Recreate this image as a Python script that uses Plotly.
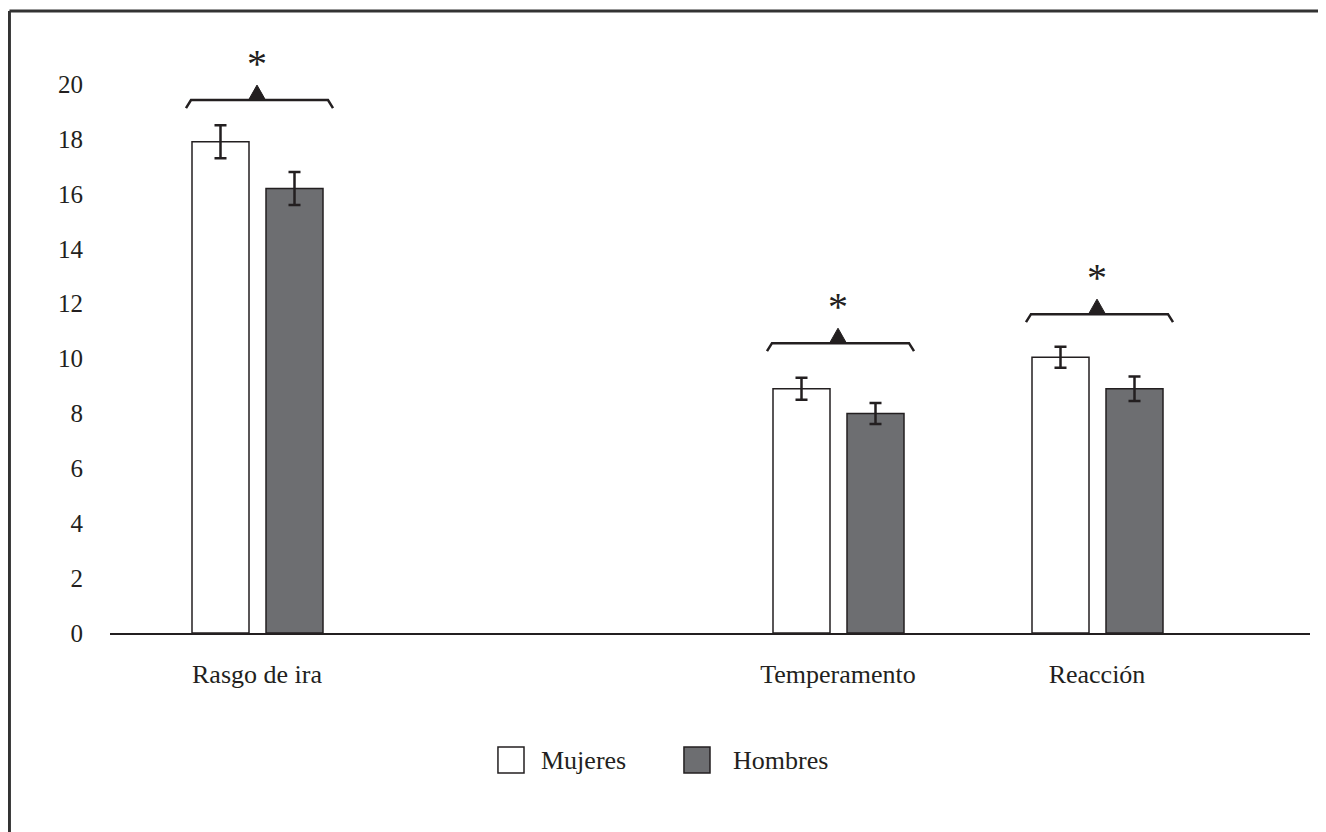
import plotly.graph_objects as go

# ---- data ----
categories = ["Rasgo de ira", "Temperamento", "Reacción"]
series_names = ["Mujeres", "Hombres"]
mujeres = [17.9, 8.9, 10.05]
mujeres_err = [0.6, 0.4, 0.38]
hombres = [16.2, 8.0, 8.9]
hombres_err = [0.6, 0.38, 0.45]
bracket_levels = [19.42, 10.56, 11.62]
y_ticks = [0, 2, 4, 6, 8, 10, 12, 14, 16, 18, 20]

# ---- layout helpers (positions of category groups on a numeric axis) ----
cat_pos = [147, 728, 987]
INK = "#231f20"
GRAY = "#6d6e71"
FONT = "Liberation Serif"

fig = go.Figure()
fig.add_trace(go.Bar(
    x=cat_pos, y=mujeres, name=series_names[0], width=57, offset=-65,
    marker=dict(color="white", line=dict(color=INK, width=1.5)),
    error_y=dict(type="data", array=mujeres_err, color=INK, thickness=2.5, width=6),
    showlegend=False,
))
fig.add_trace(go.Bar(
    x=cat_pos, y=hombres, name=series_names[1], width=57, offset=9,
    marker=dict(color=GRAY, line=dict(color=INK, width=1.5)),
    error_y=dict(type="data", array=hombres_err, color=INK, thickness=2.5, width=6),
    showlegend=False,
))

shapes = []
annotations = []
for cx, lvl in zip(cat_pos, bracket_levels):
    # bracket
    shapes.append(dict(type="path", xref="x", yref="y", xsizemode="pixel", ysizemode="pixel",
                       xanchor=cx, yanchor=lvl,
                       path="M-71,-8 L-66,0 L71,0 L76,-8",
                       line=dict(color=INK, width=2.5)))
    # triangle
    shapes.append(dict(type="path", xref="x", yref="y", xsizemode="pixel", ysizemode="pixel",
                       xanchor=cx, yanchor=lvl,
                       path="M-8.5,0 L0,15 L8.5,0 Z",
                       fillcolor=INK, line=dict(color=INK, width=1)))
    annotations.append(dict(x=cx, y=lvl, xref="x", yref="y", text="*", showarrow=False,
                            yshift=37, font=dict(family=FONT, size=40, color=INK)))

# outer frame (top and left edges)
shapes.append(dict(type="line", xref="paper", yref="paper", x0=-0.0838, x1=1.02, y0=1.0542, y1=1.0542,
                   line=dict(color="#333333", width=3)))
shapes.append(dict(type="line", xref="paper", yref="paper", x0=-0.0838, x1=-0.0838, y0=1.0542, y1=-0.4,
                   line=dict(color="#333333", width=3)))

# manual legend with large swatches
legend_items = [(series_names[0], "white", 0.3233, 0.3575), (series_names[1], GRAY, 0.4783, 0.5175)]
for name, col, bx, tx in legend_items:
    shapes.append(dict(type="rect", xref="paper", yref="paper", x0=bx, x1=bx + 0.0217,
                       y0=-0.2373, y1=-0.1932, fillcolor=col, line=dict(color=INK, width=1.5)))
    annotations.append(dict(x=tx, y=-0.2153, xref="paper", yref="paper", text=name, showarrow=False,
                            xanchor="left", yanchor="middle", font=dict(family=FONT, size=26, color=INK)))

fig.update_layout(
    width=1318, height=824,
    margin=dict(l=102, r=16, t=35, b=199),
    paper_bgcolor="white", plot_bgcolor="white",
    font=dict(family=FONT, size=25, color=INK),
    shapes=shapes, annotations=annotations,
    barmode="overlay",
    xaxis=dict(range=[0, 1200], tickvals=cat_pos, ticktext=categories, showgrid=False,
               zeroline=False, showline=True, linecolor=INK, linewidth=2, ticks="",
               ticklabelstandoff=17, tickfont=dict(family=FONT, size=26, color=INK)),
    yaxis=dict(range=[0, 21.5], tickvals=y_ticks, showgrid=False, zeroline=False,
               showline=False, ticks="", ticklabelstandoff=26,
               tickfont=dict(family=FONT, size=25, color=INK)),
)

fig.write_html("out.html")
